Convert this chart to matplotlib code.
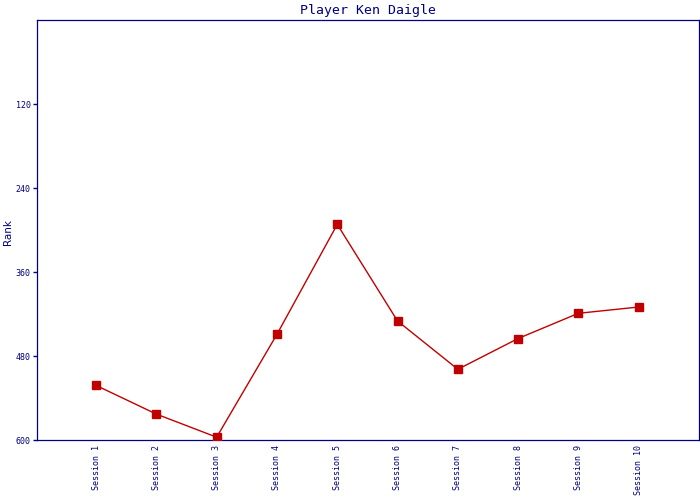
import matplotlib

matplotlib.use("Agg")
import matplotlib.pyplot as plt

# Rank per session (lower rank number = better, axis is inverted)
sessions = [f"Session {i}" for i in range(1, 11)]
ranks = [522, 563, 596, 449, 292, 430, 499, 455, 419, 410]
y_ticks = [120, 240, 360, 480, 600]

NAVY = "#000080"
RED = "#c00000"
MONO = "DejaVu Sans Mono"

fig = plt.figure(figsize=(7, 5), dpi=100)
ax = fig.add_axes([37 / 700, 1 - 440 / 500, 662 / 700, 420 / 500])

x = list(range(len(sessions)))
ax.plot(x, ranks, color=RED, lw=1.0, marker="s", ms=6.2,
        mfc=RED, mec=RED, zorder=3)

ax.set_xlim(-0.98, 10.0)
ax.set_ylim(600, 0)
ax.set_yticks(y_ticks)
ax.set_yticklabels([str(v) for v in y_ticks], fontfamily=MONO, fontsize=6,
                   color=NAVY)
ax.set_xticks(x)
ax.set_xticklabels(sessions, rotation=90, fontfamily=MONO, fontsize=6,
                   color=NAVY, va="top")

ax.tick_params(axis="y", length=3, width=1, color=NAVY, pad=1.5)
ax.tick_params(axis="x", length=0, pad=3.5)
for sp in ax.spines.values():
    sp.set_color(NAVY)
    sp.set_linewidth(0.9)

# y label sits hard against the left edge, as in the original
fig.text(3 / 700, 1 - 232 / 500, "Rank", rotation=90, fontsize=7.5,
         color=NAVY, ha="left", va="center")
ax.set_title("Player Ken Daigle", fontfamily=MONO, fontsize=9.5, color=NAVY,
             pad=4)

fig.savefig("out.png", dpi=100)
